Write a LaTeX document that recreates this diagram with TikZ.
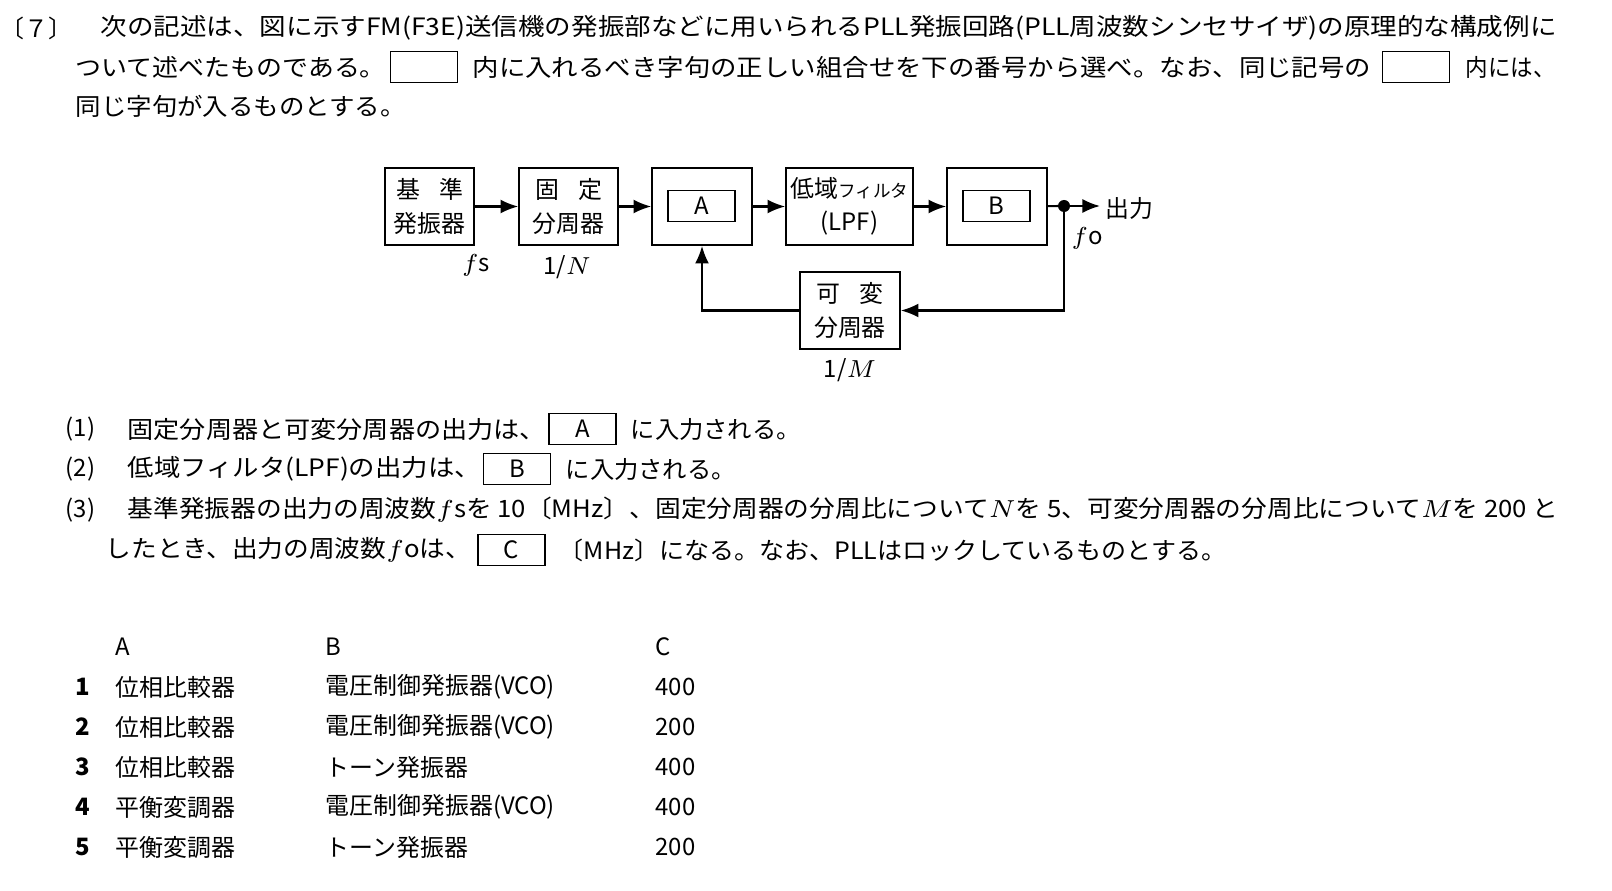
\documentclass[tikz,border=0pt]{standalone}
\usepackage{fontspec}
\setmainfont{Noto Sans CJK JP}
\usetikzlibrary{arrows.meta}
\newcommand\fw[2]{\resizebox{#1}{\height}{#2}}
\begin{document}
\begin{tikzpicture}[x=0.01cm,y=-0.01cm,
  every node/.style={font=\fontsize{6.8}{8}\selectfont, inner sep=0pt},
  blk/.style={draw, line width=0.5pt, minimum width=#1*0.01cm, minimum height=0.77cm, align=center, font=\fontsize{6.8}{9.5}\selectfont},
  ibx/.style={draw, line width=0.4pt, minimum width=0.67cm, minimum height=0.31cm},
  tx/.style={anchor=west},
  arr/.style={-{Latex[length=5pt,width=4pt]}, line width=0.6pt}]
% header
\node[tx] (h0) at (0,28) {〔７〕};
\node[tx] (h1) at (100,28) {\fw{14.55cm}{次の記述は、図に示すFM(F3E)送信機の発振部などに用いられるPLL発振回路(PLL周波数シンセサイザ)の原理的な構成例に}};
\node[tx] (h2) at (75,67) {\fw{3.1cm}{ついて述べたものである。}};
\node[ibx] (hb1) at (424,67) {};
\node[tx] (h3) at (472,67) {\fw{8.98cm}{内に入れるべき字句の正しい組合せを下の番号から選べ。なお、同じ記号の}};
\node[ibx] (hb2) at (1416,67) {};
\node[tx] (h4) at (1465,67) {\fw{0.9cm}{内には、}};
\node[tx] (h5) at (75,106) {\fw{3.3cm}{同じ字句が入るものとする。}};
% diagram
\node[blk=89] (osc) at (429.5,206.5) {基\hspace{0.8em}準\\発振器};
\node[blk=99] (fix) at (568.5,206.5) {固\hspace{0.8em}定\\分周器};
\node[blk=100] (pc) at (702,206.5) {};
\node[ibx] (pcA) at (701.5,206) {A};
\node[blk=127] (lpf) at (849.5,206.5) {低域{\fontsize{5}{6}\selectfont フィルタ}\\(LPF)};
\node[blk=100] (vco) at (997,206.5) {};
\node[ibx] (vcoB) at (996.5,206) {B};
\node[blk=100] (var) at (850,310.5) {可\hspace{0.8em}変\\分周器};
\coordinate (dot) at (1064,206);
\coordinate (out) at (1100,206);
\fill (dot) circle (0.06cm);
\node[tx] (outl) at (1105,208) {出力};
\node (fo) at (1087,238) {$f$o};
\node (fs) at (476,265) {$f$s};
\node (n) at (567,267) {1/$N$};
\node (m) at (850,370) {1/$M$};
\draw[arr] (osc) -- (fix);
\draw[arr] (fix) -- (pc);
\draw[arr] (pc) -- (lpf);
\draw[arr] (lpf) -- (vco);
\draw[line width=0.6pt] (vco) -- (dot);
\draw[arr] (dot) -- (out);
\draw[arr] (dot) |- (var.east);
\draw[arr] (var.west) -| (pc.south);
% questions
\node[tx] (q1) at (65,429) {(1)};
\node[tx] (q1a) at (127,429) {\fw{4.18cm}{固定分周器と可変分周器の出力は、}};
\node[ibx] (q1b) at (582.5,429) {A};
\node[tx] (q1c) at (630,429) {\fw{1.7cm}{に入力される。}};
\node[tx] (q2) at (65,469) {(2)};
\node[tx] (q2a) at (127,469) {\fw{3.53cm}{低域フィルタ(LPF)の出力は、}};
\node[ibx] (q2b) at (517,469) {B};
\node[tx] (q2c) at (565,469) {\fw{1.7cm}{に入力される。}};
\node[tx] (q3) at (65,510) {(3)};
\node[tx] (q3a) at (127,510) {\fw{14.3cm}{基準発振器の出力の周波数$f$sを 10〔MHz〕、固定分周器の分周比について$N$を 5、可変分周器の分周比について$M$を 200 と}};
\node[tx] (q3b) at (105,550) {\fw{3.65cm}{したとき、出力の周波数$f$oは、}};
\node[ibx] (q3c) at (511.5,550) {C};
\node[tx] (q3d) at (558,550) {\fw{6.67cm}{〔MHz〕になる。なお、PLLはロックしているものとする。}};
% table
\node[tx] (ta) at (115,647) {A};
\node[tx] (tb) at (325,647) {B};
\node[tx] (tc) at (655,647) {C};
\foreach \i/\a/\b/\c [count=\k] in {1/位相比較器/電圧制御発振器(VCO)/400,2/位相比較器/電圧制御発振器(VCO)/200,3/位相比較器/トーン発振器/400,4/平衡変調器/電圧制御発振器(VCO)/400,5/平衡変調器/トーン発振器/200}{
  \node[tx,font=\fontsize{6.8}{8}\selectfont\bfseries] (r\k) at (75,647+40*\k) {\i};
  \node[tx] (ra\k) at (115,647+40*\k) {\a};
  \node[tx] (rb\k) at (325,647+40*\k) {\b};
  \node[tx] (rc\k) at (655,647+40*\k) {\c};
}
\pgfresetboundingbox
\path[use as bounding box] (0,0) rectangle (1612,891);
\end{tikzpicture}
\end{document}
